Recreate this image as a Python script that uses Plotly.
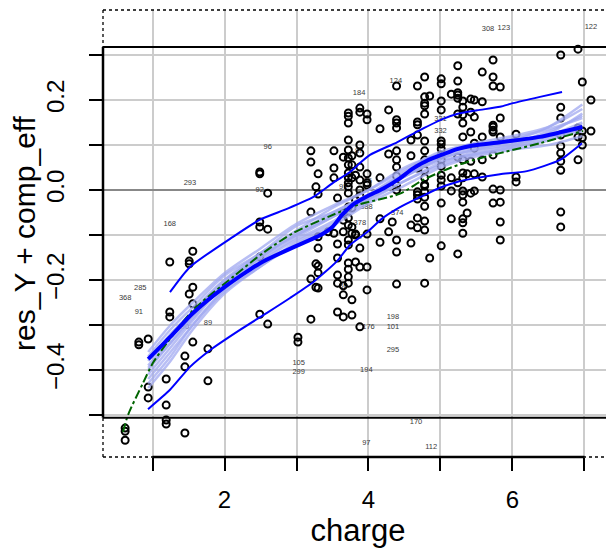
import plotly.graph_objects as go

# ---------------- data ----------------
# observed partial residuals, grouped by charge value
charge_cols = [0.62, 0.81, 0.94, 1.19, 1.24, 1.45, 1.51, 1.56, 1.77, 2.49, 2.60, 3.02,
               3.20, 3.27, 3.30, 3.44, 3.52, 3.57, 3.65, 3.72, 3.77, 3.82, 3.88, 3.98,
               4.16, 4.28, 4.33, 4.39, 4.59, 4.68, 4.78, 4.85, 5.01, 5.15, 5.24, 5.31,
               5.37, 5.42, 5.47, 5.58, 5.73, 5.83, 6.05, 6.67, 6.91, 6.97, 7.09]
resid_cols = [
    [-0.529, -0.536, -0.556],
    [-0.338, -0.344],
    [-0.331, -0.438, -0.462],
    [-0.42, -0.478, -0.511, -0.52],
    [-0.16, -0.271, -0.282],
    [-0.369, -0.393, -0.54],
    [-0.158, -0.164, -0.231],
    [-0.136, -0.216, -0.253, -0.338],
    [-0.353, -0.424],
    [0.04, 0.036, -0.071, -0.082, -0.149, -0.276],
    [-0.007, -0.087, -0.298],
    [-0.327, -0.338],
    [0.087, 0.062, -0.049, -0.198, -0.287],
    [0.007, -0.164, -0.216],
    [0.036, -0.009, -0.104, -0.129, -0.169, -0.184, -0.218],
    [-0.093],
    [0.087, 0.049, 0.027, -0.096],
    [-0.018, -0.12, -0.151, -0.189, -0.207, -0.271],
    [0.073, -0.051, -0.067, -0.093, -0.213, -0.233, -0.282],
    [0.171, 0.164, 0.149, 0.111, 0.089, 0.071, 0.056, 0.038, 0.027, 0.016, 0.007,
     -0.007, -0.038, -0.062, -0.078, -0.111, -0.122, -0.162, -0.176, -0.193, -0.207],
    [0.076, 0.056, 0.027, -0.04, -0.082, -0.096, -0.244, -0.278],
    [0.033, -0.022, -0.098, -0.1, -0.16],
    [0.182, 0.173, 0.1, 0.082, 0.051, 0.022, 0.0, -0.013, -0.129, -0.171, -0.304],
    [0.169, 0.156, 0.036, 0.016, 0.011, -0.098, -0.171, -0.222],
    [0.136, 0.027, -0.064, -0.116],
    [0.178, 0.08, -0.093],
    [-0.071],
    [0.231, 0.156, 0.149, 0.138, 0.087, 0.067, 0.051, 0.031, 0.011, 0.0, -0.111, -0.138, -0.209],
    [0.111, 0.076, -0.078, -0.118],
    [0.231, 0.151, 0.145, 0.122, 0.049, -0.004, -0.011, -0.02, -0.062, -0.084],
    [0.251, 0.207, 0.193, 0.187, 0.169, 0.109, 0.087, 0.067, 0.044, 0.027, 0.009, 0.012,
     -0.004, -0.016, -0.036, -0.069, -0.089, -0.207],
    [0.209, -0.151],
    [0.247, 0.236, 0.198, 0.178, 0.109, 0.102, 0.091, 0.078, 0.067, 0.053, 0.033, 0.022,
     0.009, -0.029, -0.124],
    [0.213, 0.027, -0.002, -0.064],
    [0.276, 0.242, 0.216, 0.211, 0.204, 0.169, 0.073, 0.016, -0.142],
    [0.198, 0.184, 0.167, 0.149, 0.118, 0.067, 0.038, 0.027, -0.002, -0.011, -0.027,
     -0.064, -0.073, -0.096],
    [0.036, -0.051],
    [0.202, 0.173, 0.129, 0.064, -0.007],
    [0.2, 0.162, 0.104, 0.093, 0.036, -0.002],
    [0.262, 0.196, 0.118, 0.067, 0.029],
    [0.289, 0.251, 0.231, 0.144, 0.14, 0.133, 0.129, 0.078, 0.002, -0.029],
    [0.229, 0.16, 0.118, 0.0, -0.027, -0.071, -0.111],
    [0.124, 0.029, 0.018],
    [0.3, 0.184, 0.16, 0.122, 0.098, 0.082, 0.064, 0.044, -0.049, -0.082],
    [0.313, 0.138, 0.118, 0.067],
    [0.24, 0.131, 0.116, 0.1],
    [0.2, 0.131],
]

# loess smooth of residuals (thick blue)
smooth_x = [0.94, 1.25, 1.56, 2.0, 2.5, 3.0, 3.3, 3.5, 3.63, 3.78, 3.97, 4.2, 4.4, 4.62,
            4.81, 5.03, 5.23, 5.45, 5.83, 6.38, 6.97]
smooth_y = [-0.376, -0.326, -0.274, -0.216, -0.162, -0.124, -0.103, -0.082, -0.056, -0.033,
            -0.015, 0.003, 0.022, 0.048, 0.065, 0.079, 0.091, 0.099, 0.106, 0.118, 0.14]

# spread smooths (thin blue)
upper_x = [1.243, 1.521, 2.118, 2.493, 2.868, 3.229, 3.507, 3.743, 3.882, 4.021, 4.396,
           4.715, 5.035, 5.229, 5.507, 5.826, 6.007, 6.382, 6.688]
upper_y = [-0.227, -0.171, -0.104, -0.066, -0.042, -0.016, 0.016, 0.040, 0.06, 0.078,
           0.106, 0.133, 0.158, 0.169, 0.177, 0.185, 0.193, 0.207, 0.218]
lower_x = [0.938, 1.243, 1.521, 1.799, 2.215, 2.59, 2.91, 3.229, 3.563, 3.743, 3.979,
           4.201, 4.438, 4.715, 4.993, 5.229, 5.507, 5.826, 6.201, 6.66, 6.965]
lower_y = [-0.487, -0.444, -0.393, -0.356, -0.311, -0.273, -0.240, -0.205, -0.158, -0.122,
           -0.094, -0.062, -0.038, -0.016, 0.005, 0.018, 0.027, 0.035, 0.042, 0.067, 0.104]

# fitted component (green dash-dot)
comp_x = [0.59, 0.66, 0.868, 1.007, 1.201, 1.563, 2.118, 2.535, 2.951, 3.465, 3.854,
          4.438, 4.757, 5.132, 5.451, 5.826, 6.382, 6.979]
comp_y = [-0.538, -0.5, -0.429, -0.384, -0.34, -0.267, -0.193, -0.14, -0.096, -0.058,
          -0.033, -0.008, 0.022, 0.049, 0.066, 0.082, 0.104, 0.131]

# bootstrap smooths (light blue)
boot_x = [0.94, 1.25, 1.56, 2.0, 2.5, 3.0, 3.5, 4.0, 4.5, 5.0, 5.5, 6.0, 6.5, 6.97]
boot_lines = [
    [-0.37, -0.31, -0.26, -0.19, -0.14, -0.08, -0.05, -0.01, 0.03, 0.07, 0.09, 0.10, 0.12, 0.15],
    [-0.40, -0.34, -0.28, -0.21, -0.15, -0.10, -0.06, -0.02, 0.02, 0.06, 0.085, 0.10, 0.125, 0.17],
    [-0.42, -0.36, -0.30, -0.22, -0.16, -0.11, -0.07, -0.02, 0.03, 0.07, 0.09, 0.11, 0.14, 0.19],
    [-0.38, -0.32, -0.27, -0.20, -0.14, -0.09, -0.04, 0.00, 0.05, 0.08, 0.10, 0.11, 0.12, 0.13],
    [-0.44, -0.38, -0.31, -0.23, -0.17, -0.12, -0.08, -0.03, 0.01, 0.05, 0.075, 0.09, 0.10, 0.12],
    [-0.39, -0.33, -0.27, -0.20, -0.15, -0.095, -0.05, -0.01, 0.04, 0.08, 0.10, 0.115, 0.135, 0.16],
    [-0.41, -0.35, -0.29, -0.21, -0.155, -0.105, -0.06, -0.015, 0.03, 0.065, 0.08, 0.095, 0.11, 0.14],
    [-0.36, -0.30, -0.25, -0.185, -0.13, -0.075, -0.035, 0.00, 0.045, 0.085, 0.105, 0.12, 0.14, 0.18],
    [-0.43, -0.37, -0.30, -0.225, -0.17, -0.115, -0.075, -0.025, 0.02, 0.055, 0.08, 0.095, 0.115, 0.145],
    [-0.395, -0.34, -0.285, -0.205, -0.145, -0.10, -0.055, -0.01, 0.035, 0.075, 0.095, 0.105, 0.13, 0.165],
]

# identified observations
label_text = ["96", "293", "92", "168", "95", "285", "368", "91", "89", "90", "105", "299",
              "124", "184", "331", "332", "87", "35", "388", "378", "374", "377", "86",
              "198", "101", "176", "295", "194", "170", "97", "112", "308", "123", "122"]
label_x = [2.60, 1.52, 2.49, 1.24, 3.65, 0.83, 0.62, 0.81, 1.77, 1.45, 3.03, 3.03,
           4.38, 3.87, 5.0, 5.0, 3.87, 3.99, 3.97, 3.88, 4.4, 3.84, 3.65,
           4.34, 4.34, 4.0, 4.34, 3.97, 4.66, 3.97, 4.87, 5.66, 5.88, 7.09]
label_y = [0.096, 0.016, 0.0, -0.076, 0.007, -0.218, -0.24, -0.271, -0.296, -0.304, -0.384, -0.405,
           0.242, 0.216, 0.158, 0.131, 0.087, 0.02, -0.038, -0.073, -0.051, -0.104, -0.213,
           -0.282, -0.304, -0.304, -0.356, -0.4, -0.516, -0.562, -0.571, 0.358, 0.36, 0.362]

x_ticks = [1, 2, 3, 4, 5, 6, 7]
x_ticktext = ["", "2", "", "4", "", "6", ""]
y_ticks = [-0.5, -0.4, -0.3, -0.2, -0.1, 0.0, 0.1, 0.2, 0.3]
y_ticktext = ["", "\u22120.4", "", "\u22120.2", "", "0.0", "", "0.2", ""]

box_top, box_bottom = 0.318, -0.506

# ---------------- figure ----------------
pts_x, pts_y = [], []
for cx, ys in zip(charge_cols, resid_cols):
    for v in ys:
        pts_x.append(cx)
        pts_y.append(v)

fig = go.Figure()

fig.add_trace(go.Scatter(x=label_x, y=label_y, mode="text", text=label_text,
                         textfont=dict(size=7.5, color="#3a3a3a",
                                       family="Liberation Sans, Arial"),
                         hoverinfo="skip", showlegend=False))

fig.add_trace(go.Scatter(x=pts_x, y=pts_y, mode="markers",
                         marker=dict(symbol="circle-open", size=7, color="black",
                                     line=dict(width=2, color="black")),
                         showlegend=False))

for bl in boot_lines:
    fig.add_trace(go.Scatter(x=boot_x, y=bl, mode="lines",
                             line=dict(color="rgba(160,168,240,0.75)", width=2.5,
                                       shape="spline", smoothing=0.8),
                             showlegend=False))

fig.add_trace(go.Scatter(x=comp_x, y=comp_y, mode="lines",
                         line=dict(color="#006400", width=2, dash="dashdot",
                                   shape="spline", smoothing=0.8),
                         showlegend=False))
fig.add_trace(go.Scatter(x=smooth_x, y=smooth_y, mode="lines",
                         line=dict(color="#0000ff", width=4, shape="spline", smoothing=0.6),
                         showlegend=False))
fig.add_trace(go.Scatter(x=upper_x, y=upper_y, mode="lines",
                         line=dict(color="#0000ff", width=2, shape="spline", smoothing=0.6),
                         showlegend=False))
fig.add_trace(go.Scatter(x=lower_x, y=lower_y, mode="lines",
                         line=dict(color="#0000ff", width=2, shape="spline", smoothing=0.6),
                         showlegend=False))

shapes = []
# dotted outer frame
for (x0, x1, y0, y1) in [(0, 1, 1, 1), (1, 1, 0, 1), (0, 1, 0, 0), (0, 0, 0, 1)]:
    shapes.append(dict(type="line", xref="paper", yref="paper", x0=x0, x1=x1, y0=y0, y1=y1,
                       line=dict(color="black", width=1.3, dash="dot"), layer="above"))
# solid inner frame
shapes.append(dict(type="line", xref="paper", yref="y", x0=0, x1=1, y0=box_top, y1=box_top,
                   line=dict(color="black", width=2), layer="above"))
shapes.append(dict(type="line", xref="paper", yref="y", x0=0, x1=1, y0=box_bottom, y1=box_bottom,
                   line=dict(color="black", width=2), layer="above"))
shapes.append(dict(type="line", xref="paper", yref="y", x0=0, x1=0, y0=box_bottom, y1=box_top,
                   line=dict(color="black", width=2.5), layer="above"))
# x axis solid line between first and last tick
shapes.append(dict(type="line", xref="x", yref="paper", x0=1, x1=7, y0=0, y1=0,
                   line=dict(color="black", width=2.5), layer="above"))

# page body adds an 8px offset, so the figure is sized to fit the 614x553 window
fig.update_layout(
    width=606, height=545,
    margin=dict(l=95, r=1, t=2, b=96, autoexpand=False),
    paper_bgcolor="white", plot_bgcolor="white",
    font=dict(family="Liberation Sans, Arial", color="black"),
    shapes=shapes,
    xaxis=dict(range=[0.3125, 7.396], tickvals=x_ticks, ticktext=x_ticktext,
               ticks="outside", ticklen=13, tickwidth=2, tickcolor="black",
               showgrid=True, gridcolor="#cccccc", gridwidth=2,
               zeroline=False, showline=False, automargin=False,
               tickfont=dict(size=24), ticklabelstandoff=8,
               title=dict(text="charge", font=dict(size=31), standoff=6)),
    yaxis=dict(range=[-0.5933, 0.4], tickvals=y_ticks, ticktext=y_ticktext,
               ticks="outside", ticklen=13, tickwidth=2, tickcolor="black",
               showgrid=True, gridcolor="#cccccc", gridwidth=2,
               zeroline=True, zerolinecolor="#888888", zerolinewidth=1.5,
               showline=False, tickangle=-90, automargin=False,
               tickfont=dict(size=24), ticklabelstandoff=15,
               title=dict(text="res_Y + comp_eff", font=dict(size=30), standoff=6)),
)

fig.write_html("out.html")
